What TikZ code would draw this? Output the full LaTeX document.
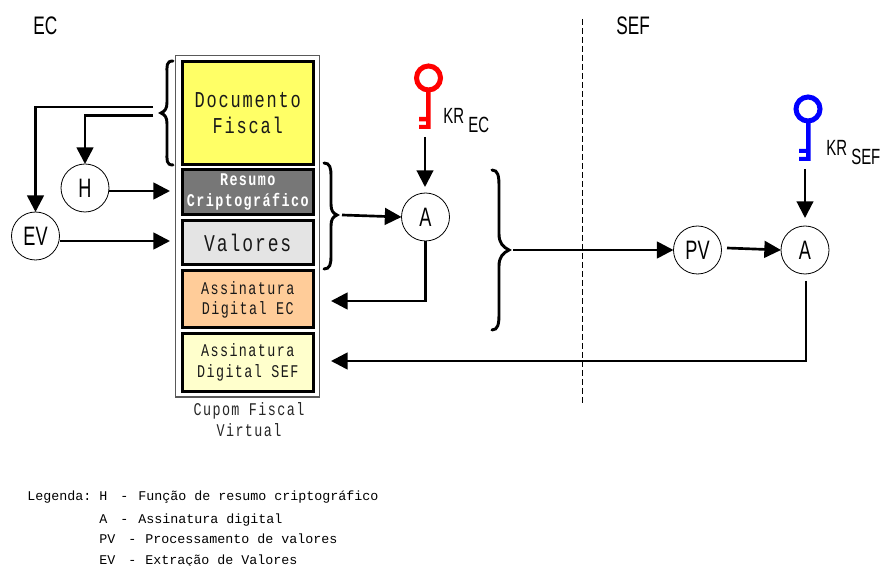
\documentclass[tikz,border=0pt]{standalone}
\usepackage{fontspec}
\usetikzlibrary{arrows.meta}
\newfontfamily\gth[FakeStretch=0.75,LetterSpace=8]{Liberation Mono}
\newfontfamily\nar[FakeStretch=0.68]{Liberation Sans}
\newfontfamily\legf{Liberation Mono}
\newcommand{\gsize}[1]{\gth\fontsize{#1}{#1}\selectfont}
\begin{document}
\begin{tikzpicture}[x=0.75pt,y=-0.75pt,
  box/.style={draw=black,line width=2.25pt,outer sep=0pt,minimum width=130.5*0.75pt,inner sep=0pt,align=center,anchor=north west,text=black!90},
  circ/.style={circle,draw=black,line width=0.6pt,outer sep=0pt,minimum size=48*0.75pt,inner sep=0pt,font=\nar\fontsize{20}{20}\selectfont,fill=white},
  arr/.style={-{Triangle[length=12.5pt,width=12.5pt]},line width=2pt,black},
  thinarr/.style={arr,line width=1.6pt},
  brc/.style={line width=2.2pt,black,line cap=round},
  heading/.style={font=\nar\fontsize{19}{19}\selectfont,anchor=base west,inner sep=0pt},
  krt/.style={font=\nar\fontsize{16.5}{16.5}\selectfont,anchor=base west,inner sep=0pt},
  capt/.style={font=\gsize{13.4},anchor=base,inner sep=0pt,text=black!85},
  leg/.style={font=\legf\fontsize{10}{10}\selectfont,anchor=base west,inner sep=0pt}
]
\useasboundingbox (0,0) rectangle (885,566);
\node[heading] (ec) at (33,35) {EC};
\node[heading] (sef) at (616,35) {SEF};
\draw[black,line width=0.75pt,dash pattern=on 4.5pt off 2.25pt] (582.5,19) -- (582.5,405);
% outer frame
\node[draw=black!65,line width=1.1pt,outer sep=0pt,minimum width=144*0.75pt,minimum height=341.5*0.75pt,anchor=north west,inner sep=0pt] (frame) at (175.5,55.5) {};
% boxes
\node[box,font=\gsize{17},fill={rgb,255:red,255;green,255;blue,102},minimum height=103*0.75pt] (doc) at (182.5,61.5) {Documento\\[2pt]Fiscal};
\node[box,font=\gsize{13.4}\bfseries,fill={rgb,255:red,119;green,119;blue,119},minimum height=44.5*0.75pt,text=white] (res) at (182.5,170) {Resumo\\[2pt]Criptográfico};
\node[box,font=\gsize{18},fill={rgb,255:red,228;green,228;blue,228},minimum height=44*0.75pt] (val) at (182.5,221) {Valores};
\node[box,font=\gsize{13.4},fill={rgb,255:red,255;green,204;blue,153},minimum height=57*0.75pt] (aec) at (182.5,271) {Assinatura\\[1.5pt]Digital EC};
\node[box,font=\gsize{13.4},fill={rgb,255:red,255;green,255;blue,204},minimum height=58*0.75pt] (asef) at (182.5,333.5) {Assinatura\\[2pt]Digital SEF};
\node[capt] (c1) at (249,416) {Cupom Fiscal};
\node[capt] (c2) at (249,436) {Virtual};
% circles
\node[circ] (h) at (85,188) {H};
\node[circ] (ev) at (35.5,236) {EV};
\node[circ] (a1) at (425.5,217) {A};
\node[circ] (pv) at (697.5,250) {PV};
\node[circ] (a2) at (805,250) {A};
% braces
\draw[brc] (173,61) .. controls (166,61) and (167,66) .. (167,74) -- (167,102) .. controls (167,109) and (165,111) .. (161,113) .. controls (165,115) and (167,117) .. (167,124) -- (167,152) .. controls (167,160) and (166,165) .. (173,165);
\draw[brc] (324,163) .. controls (330,163) and (331,168) .. (331,176) -- (331,204) .. controls (331,211) and (333,213) .. (337,215) .. controls (333,217) and (331,219) .. (331,226) -- (331,256) .. controls (331,264) and (330,269) .. (324,269);
\draw[brc] (492,170) .. controls (498,170) and (499,176) .. (499,186) -- (499,234) .. controls (499,243) and (503,247) .. (509,250) .. controls (503,253) and (499,257) .. (499,266) -- (499,314) .. controls (499,324) and (498,330) .. (492,330);
% keys
\draw[red,line width=3.75pt] (428.5,78) circle[radius=12];
\fill[red] (426,90) rectangle (430.5,129) (419,117) rectangle (426,121.5) (419,125) rectangle (426,129);
\node[krt] (kr1) at (443,124) {KR};
\node[krt] (ec1) at (468,133) {EC};
\draw[blue,line width=3.75pt] (808,109) circle[radius=12];
\fill[blue] (806,121) rectangle (810.5,161) (799,149) rectangle (806,153) (799,157) rectangle (806,161);
\node[krt] (kr2) at (826,156) {KR};
\node[krt] (sef2) at (851,165) {SEF};
% connectors
\coordinate (p1) at (153,107);
\coordinate (p2) at (153,115.5);
\coordinate (q1) at (170,191);
\coordinate (q2) at (170,241);
\coordinate (r1) at (342,215);
\coordinate (r2) at (513,250);
\coordinate (k1) at (425,137);
\coordinate (k2) at (805,169);
\coordinate (t1) at (331,301);
\coordinate (t2) at (331,361);
\draw[arr] (p1) -- (35.5,107) -- (ev.north);
\draw[arr] (p2) -- (85,115.5) -- (h.north);
\draw[arr] (h.east |- q1) -- (q1);
\draw[arr] (ev.east |- q2) -- (q2);
\draw[arr] (r1) -- (a1.west);
\draw[thinarr] (k1) -- (425,187);
\draw[arr] (a1.south) -- (425.5,301) -- (t1);
\draw[arr] (r2) -- (pv.west);
\draw[arr] (727,248) -- (a2.west);
\draw[thinarr] (k2) -- (805,218);
\draw[arr] (806,281) -- (806,361) -- (t2);
% legend
\node[leg] (l0) at (27,500) {Legenda:};
\node[leg] (l1a) at (99,500) {H};
\node[leg] (l1b) at (120,500) {-};
\node[leg] (l1c) at (138,500) {Função de resumo criptográfico};
\node[leg] (l2a) at (99,523) {A};
\node[leg] (l2b) at (120,523) {-};
\node[leg] (l2c) at (138,523) {Assinatura digital};
\node[leg] (l3a) at (99,543) {PV};
\node[leg] (l3b) at (128,543) {-};
\node[leg] (l3c) at (145,543) {Processamento de valores};
\node[leg] (l4a) at (99,564) {EV};
\node[leg] (l4b) at (128,564) {-};
\node[leg] (l4c) at (145,564) {Extração de Valores};
\end{tikzpicture}
\end{document}
